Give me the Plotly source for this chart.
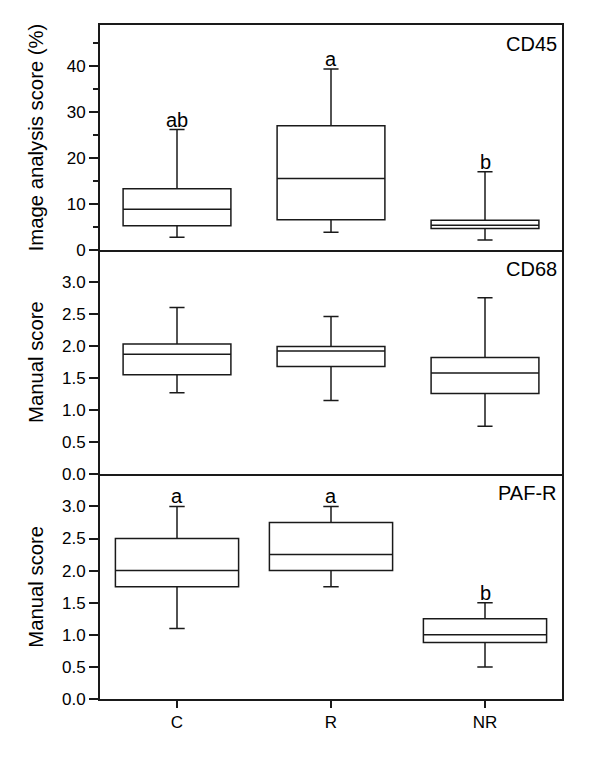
import plotly.graph_objects as go

groups = ["C", "R", "NR"]
positions = [1, 2, 3]

# CD45 (Image analysis score %)
cd45_low = [2.7, 3.8, 2.1]
cd45_q1 = [5.2, 6.5, 4.6]
cd45_med = [8.8, 15.5, 5.3]
cd45_q3 = [13.3, 27.0, 6.4]
cd45_high = [26.2, 39.4, 17.0]
cd45_letters = ["ab", "a", "b"]

# CD68 (Manual score)
cd68_low = [1.27, 1.15, 0.75]
cd68_q1 = [1.55, 1.68, 1.26]
cd68_med = [1.87, 1.92, 1.58]
cd68_q3 = [2.03, 1.99, 1.82]
cd68_high = [2.60, 2.46, 2.75]

# PAF-R (Manual score)
paf_low = [1.1, 1.75, 0.5]
paf_q1 = [1.75, 2.0, 0.88]
paf_med = [2.0, 2.25, 1.0]
paf_q3 = [2.5, 2.75, 1.25]
paf_high = [3.0, 3.0, 1.5]
paf_letters = ["a", "a", "b"]

manual_ticks = [0.0, 0.5, 1.0, 1.5, 2.0, 2.5, 3.0]

FONT = "Liberation Sans, Arial, sans-serif"
LINE = "#1a1a1a"

fig = go.Figure()

def add_box(low, q1, med, q3, high, xa, ya, width, ww):
    fig.add_trace(go.Box(
        x=positions, q1=q1, median=med, q3=q3,
        lowerfence=low, upperfence=high,
        width=width, whiskerwidth=ww,
        line=dict(color=LINE, width=1.5),
        fillcolor="rgba(255,255,255,0)",
        boxpoints=False, showlegend=False,
        xaxis=xa, yaxis=ya, hoverinfo="skip",
    ))

add_box(cd45_low, cd45_q1, cd45_med, cd45_q3, cd45_high, "x", "y", 0.7, 0.14)
add_box(cd68_low, cd68_q1, cd68_med, cd68_q3, cd68_high, "x2", "y2", 0.7, 0.14)
add_box(paf_low, paf_q1, paf_med, paf_q3, paf_high, "x3", "y3", 0.8, 0.125)

domains = [[2/3, 1.0], [1/3, 2/3], [0.0, 1/3]]

def xaxis(anchor, bottom, mirror):
    return dict(
        domain=[0, 1], anchor=anchor, range=[0.5, 3.5],
        tickvals=positions, ticktext=groups,
        showticklabels=bottom, ticks="outside" if bottom else "",
        ticklen=7, tickwidth=1.5, tickcolor=LINE,
        showline=True, mirror=mirror, linecolor=LINE, linewidth=2,
        showgrid=False, zeroline=False,
        tickfont=dict(size=17, family=FONT, color="black"),
    )

def yaxis_common(anchor, dom):
    return dict(
        domain=dom, anchor=anchor,
        showline=True, mirror=True, linecolor=LINE, linewidth=2,
        ticks="outside", ticklen=9, tickwidth=1.5, tickcolor=LINE,
        showgrid=False, zeroline=False,
        tickfont=dict(size=17, family=FONT, color="black"),
    )

y1 = yaxis_common("x", domains[0])
y1.update(range=[0, 49], tickvals=[0, 10, 20, 30, 40],
          minor=dict(tickvals=[5, 15, 25, 35, 45], ticks="outside", ticklen=5,
                     tickwidth=1.5, tickcolor=LINE))
y2 = yaxis_common("x2", domains[1])
y2.update(range=[0, 3.5], tickvals=manual_ticks, tickformat=".1f")
y3 = yaxis_common("x3", domains[2])
y3.update(range=[0, 3.5], tickvals=manual_ticks, tickformat=".1f")

fig.update_layout(
    width=592, height=749,
    margin=dict(l=92, r=38, t=17, b=58),
    paper_bgcolor="white", plot_bgcolor="white",
    xaxis=xaxis("y", False, True), xaxis2=xaxis("y2", False, False),
    xaxis3=xaxis("y3", True, False),
    yaxis=y1, yaxis2=y2, yaxis3=y3,
    font=dict(family=FONT, color="black"),
)

annotations = []
for xv, yv, t in zip(positions, cd45_high, cd45_letters):
    annotations.append(dict(x=xv, y=yv, xref="x", yref="y", text=t, showarrow=False,
                            yanchor="bottom", yshift=-3, font=dict(size=20, family=FONT, color="black")))
for xv, yv, t in zip(positions, paf_high, paf_letters):
    annotations.append(dict(x=xv, y=yv, xref="x3", yref="y3", text=t, showarrow=False,
                            yanchor="bottom", yshift=-3, font=dict(size=20, family=FONT, color="black")))

panel_names = ["CD45", "CD68", "PAF-R"]
for name, dom in zip(panel_names, domains):
    annotations.append(dict(x=1, y=dom[1], xref="paper", yref="paper", text=name,
                            showarrow=False, xanchor="right", yanchor="top",
                            xshift=-3, yshift=-6, font=dict(size=20, family=FONT, color="black")))

titles = ["Image analysis score (%)", "Manual score", "Manual score"]
for title, dom in zip(titles, domains):
    annotations.append(dict(x=-77 / 462, y=(dom[0] + dom[1]) / 2, xref="paper", yref="paper",
                            text=title, textangle=-90, showarrow=False,
                            xanchor="left", yanchor="middle",
                            font=dict(size=20.3, family=FONT, color="black")))

fig.update_layout(annotations=annotations)

fig.write_html("out.html")
